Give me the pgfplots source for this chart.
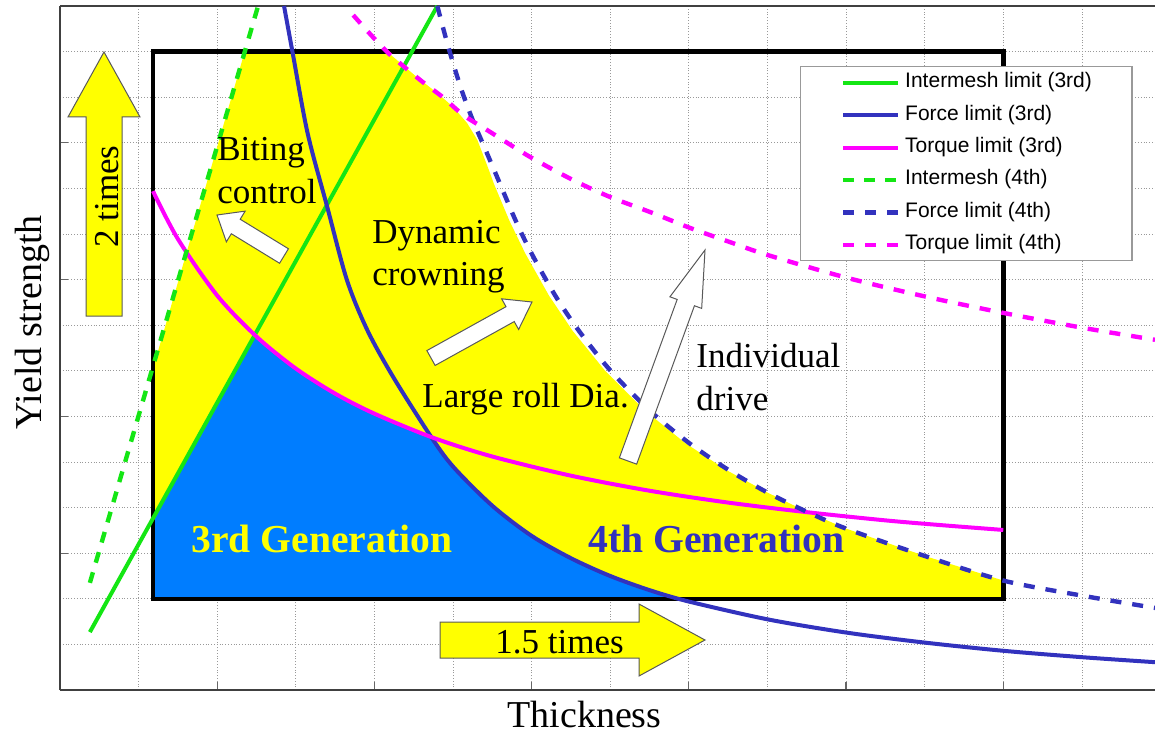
\documentclass[border=0pt]{standalone}
\usepackage{fontspec}
\setmainfont{Liberation Serif}
\setsansfont{Liberation Sans}
\usepackage{pgfplots}
\pgfplotsset{compat=1.18}
\usetikzlibrary{calc}

\definecolor{limgreen}{RGB}{20,230,20}
\definecolor{limblue}{RGB}{50,50,190}
\definecolor{limmag}{RGB}{255,0,255}
\definecolor{genyellow}{RGB}{255,255,0}
\definecolor{genblue}{RGB}{0,125,255}

% block arrow: tail, tip, shaft half width, head half width, head length, fill
\newcommand{\blockarrow}[6]{%
  \coordinate (baA) at #1;
  \coordinate (baB) at #2;
  \coordinate (baC) at ($(baB)!#5!(baA)$);
  \draw[draw=black!65, line width=0.5pt, fill=#6, line join=miter]
    ($(baA)!#3!90:(baB)$) -- ($(baC)!#3!90:(baB)$) -- ($(baC)!#4!90:(baB)$)
    -- (baB) -- ($(baC)!#4!-90:(baB)$) -- ($(baC)!#3!-90:(baB)$)
    -- ($(baA)!#3!-90:(baB)$) -- cycle;
}

\begin{document}
\begin{tikzpicture}
\begin{axis}[
  scale only axis, width=547.5pt, height=342pt,
  at={(0,0)}, anchor=south west,
  xmin=0, xmax=13.93, ymin=0, ymax=15,
  axis y line*=left,
  axis line style={draw=black!75, line width=0.9pt},
  xtick={2,4,...,12}, ytick={3,6,9,12},
  minor xtick={1,...,13}, minor ytick={1,...,14},
  xticklabels={}, yticklabels={},
  tick pos=left, tick align=inside,
  major tick length=4pt, minor tick length=0pt,
  tick style={black!60, line width=0.6pt},
  xminorgrids, yminorgrids,
  minor grid style={black!40, densely dotted, line width=0.4pt},
  legend style={at={(axis description cs:0.676,0.912)}, anchor=north west,
    draw=black!40, line width=0.6pt, fill=white,
    font=\sffamily\fontsize{10.5}{12}\selectfont,
    inner xsep=20pt, inner ysep=2.5pt, row sep=5.2pt, column sep=2.5pt,
    nodes={inner sep=0pt, text height=8pt, text depth=3pt}},
  legend cell align=left,
  legend image code/.code={\draw[#1] (0pt,0pt) -- (27.5pt,0pt);},
]
% 4th generation region
\addplot[draw=none, fill=genyellow, forget plot] coordinates {
  (1.183,2) (1.183,7.05) (2.35,14) (4.16,14) (4.54,13.44) (4.80,13.09)
  (5.00,12.79) (5.18,12.43) (5.31,12.06) (5.47,11.34) (5.52,11.10)
  (5.72,10.28) (5.92,9.57) (6.22,8.65) (6.52,7.88) (6.93,7.01) (7.44,6.13)
  (7.95,5.42) (8.47,4.83) (9.00,4.33) (9.50,3.91) (10.0,3.54) (11.0,2.94)
  (12,2.40) (12,2)
};
% 3rd generation region
\addplot[draw=none, fill=genblue, forget plot] coordinates {
  (1.183,2) (1.183,3.75) (2.48,7.80) (3.0,7.05) (3.5,6.50) (4.0,6.06)
  (4.5,5.69) (4.73,5.54) (5.0,4.90) (5.5,4.04) (6.0,3.38) (6.5,2.89)
  (7.0,2.50) (7.5,2.19) (7.87,2.0)
};
% target window
\addplot[black, line width=2.3pt, line cap=rect, forget plot] coordinates {
  (1.183,2) (12,2) (12,14) (1.183,14) (1.183,2)
};

\addplot[limgreen, line width=2pt] coordinates {(0.38,1.27) (4.80,15.0)};
\addlegendentry{Intermesh limit (3rd)}
\addplot[limblue, line width=2pt, smooth] coordinates {
  (2.85,15.0) (2.96,13.97) (3.15,12.21) (3.40,10.59) (3.65,8.99) (3.91,7.89)
  (4.24,6.86) (4.71,5.58) (5.0,4.90) (5.5,4.04) (6.0,3.38) (6.5,2.89)
  (7.0,2.50) (7.5,2.19) (8.0,1.94) (9.0,1.55) (10.0,1.26) (11.0,1.04)
  (12.0,0.86) (13.0,0.72) (13.93,0.61)
};
\addlegendentry{Force limit (3rd)}
\addplot[limmag, line width=2pt, smooth] coordinates {
  (1.183,10.94) (1.5,9.89) (2.0,8.65) (2.5,7.75) (3.0,7.05) (3.5,6.50)
  (4.0,6.06) (4.75,5.53) (5.5,5.12) (6.5,4.70) (7.5,4.37) (8.5,4.11)
  (9.5,3.90) (10.5,3.72) (11.25,3.61) (12.0,3.51)
};
\addlegendentry{Torque limit (3rd)}
\addplot[limgreen, line width=2.2pt, dash pattern=on 5.5pt off 5pt] coordinates {
  (0.38,2.35) (2.52,15.0)
};
\addlegendentry{Intermesh (4th)}
\addplot[limblue, line width=2.2pt, dash pattern=on 5.5pt off 5.5pt, smooth] coordinates {
  (4.80,15.0) (4.90,14.35) (5.00,13.75) (5.12,13.10) (5.25,12.50) (5.40,11.90)
  (5.60,11.09) (5.80,10.28) (6.00,9.57) (6.30,8.65) (6.60,7.88) (7.00,7.01)
  (7.50,6.13) (8.00,5.42) (8.50,4.83) (9.00,4.33) (9.50,3.91) (10.0,3.54)
  (11.0,2.94) (12.0,2.40) (13.0,2.07) (13.93,1.80)
};
\addlegendentry{Force limit (4th)}
\addplot[limmag, line width=2.2pt, dash pattern=on 5.5pt off 5.5pt, smooth] coordinates {
  (3.73,14.80) (3.98,14.32) (4.20,13.93) (4.58,13.38) (4.87,13.00) (5.13,12.61)
  (5.47,12.24) (5.98,11.69) (6.53,11.18) (7.00,10.81) (7.54,10.46) (8.02,10.13)
  (8.56,9.80) (9.00,9.54) (10.01,9.04) (11.03,8.62) (12.00,8.27) (13.02,7.94)
  (13.93,7.68)
};
\addlegendentry{Torque limit (4th)}
\end{axis}

% annotations, in pixel units of the picture (origin top left)
\begin{scope}[xshift=-30pt, yshift=345pt, x=0.5pt, y=-0.5pt,
  ann/.style={inner sep=0pt, anchor=base west, font=\fontsize{17.5}{21}\selectfont}]
  \blockarrow{(104,316)}{(104,52)}{9pt}{18pt}{32.5pt}{genyellow}
  \blockarrow{(440,640)}{(705,640)}{9pt}{18pt}{33pt}{genyellow}
  \blockarrow{(284,256)}{(217,215)}{4.25pt}{9pt}{11pt}{white}
  \blockarrow{(431,358)}{(532,302)}{4.25pt}{8.75pt}{12.5pt}{white}
  \blockarrow{(628,461)}{(705,250)}{4.6pt}{8.45pt}{28pt}{white}

  \node[ann] at (217,160) {Biting};
  \node[ann] at (217,203) {control};
  \node[ann] at (372,243) {Dynamic};
  \node[ann] at (372,285) {crowning};
  \node[ann] at (422,407) {Large roll Dia.};
  \node[ann] at (696,367) {Individual};
  \node[ann] at (696,410) {drive};
  \node[ann] at (495,653) {1.5 times};
  \node[ann, rotate=90] at (118,248) {2 times};

  \node[ann, font=\bfseries\fontsize{19.8}{24}\selectfont, text=genyellow] at (191,552) {3rd Generation};
  \node[ann, font=\bfseries\fontsize{19.8}{24}\selectfont, text=limblue] at (588,552) {4th Generation};

  \node[ann, font=\fontsize{19}{23}\selectfont] at (507,727) {Thickness};
  \node[ann, font=\fontsize{19}{23}\selectfont, rotate=90] at (42,430) {Yield strength};

  \pgfresetboundingbox
  \path (0,0) rectangle (1155,735);
\end{scope}
\end{tikzpicture}
\end{document}
